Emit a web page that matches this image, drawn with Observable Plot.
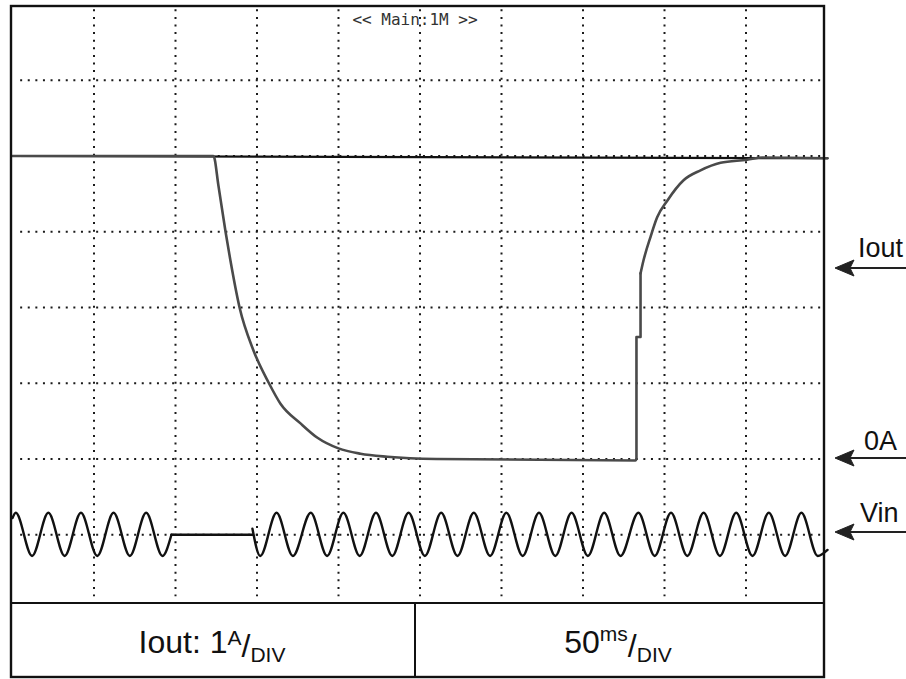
<!DOCTYPE html>
<html><head><meta charset="utf-8">
<script src="https://cdn.jsdelivr.net/npm/d3@7"></script>
<script src="https://cdn.jsdelivr.net/npm/@observablehq/plot@0.6"></script>
<style>
html,body{margin:0;padding:0;background:#fff;}
#chart{width:906px;height:679px;}
</style></head><body><div id="chart"></div>
<script>
// Time axis: 10 divisions x 50 ms ; vertical: 8 divisions
const gridTimes = [50, 100, 150, 200, 250, 300, 350, 400, 450];
const gridLevels = [-3, -2, -1, 0, 1, 2, 3];

// Iout trace (A), 1 A/div, 0 A at the -2 div line
const ioutTime = [0, 123.3, 126.4, 130.7, 133.7, 139.3, 147.9, 157.1, 164.4, 176.7, 187.1, 200, 213.5, 230, 260, 382.2, 382.8,
  382.8, 382.8, 385.3, 385.3,
  385.3, 387.1, 391.4, 395.5, 401.7, 411.7, 422.1, 434.4, 450.7, 460, 500];
const ioutAmps = [4.0, 4.0, 3.6, 3.0, 2.62, 2.0, 1.43, 1.01, 0.73, 0.47, 0.28, 0.14, 0.07, 0.03, 0.0, -0.02, 0.0,
  0.0, 1.61, 1.61, 2.45,
  2.45, 2.62, 2.93, 3.19, 3.41, 3.68, 3.81, 3.91, 3.95, 3.98, 3.97];
const ioutPart = ["fall","fall","fall","fall","fall","fall","fall","fall","fall","fall","fall","fall","fall","fall","fall","fall","fall",
  "step","step","step","step",
  "rise","rise","rise","rise","rise","rise","rise","rise","rise","rise","rise"];

// flat reference trace at the top
const refTime = [0, 500];
const refAmps = [4.0, 3.97];

// Vin trace: extrema (div, around the -3 div line)
const vinTime = [0, 2, 12, 22, 32, 42, 52, 62, 72, 82, 92, 97.5,
  97.5, 147.2,
  147.2, 152, 162, 172, 183, 193, 203, 213, 223, 233, 243, 253, 263, 273, 283, 293, 303, 313, 323, 333, 343, 353, 363, 373, 384, 394, 404, 414, 424, 434, 444, 454, 464, 474, 484, 494, 500];
const vinLevel = [0.22, 0.29, -0.28, 0.29, -0.28, 0.29, -0.28, 0.29, -0.28, 0.29, -0.28, 0,
  0, 0,
  0.08, -0.28, 0.29, -0.28, 0.29, -0.28, 0.29, -0.28, 0.29, -0.28, 0.29, -0.28, 0.29, -0.28, 0.29, -0.28, 0.29, -0.28, 0.29, -0.28, 0.29, -0.28, 0.29, -0.28, 0.29, -0.28, 0.29, -0.28, 0.29, -0.28, 0.29, -0.28, 0.29, -0.28, 0.29, -0.28, -0.2];
const vinSegment = ["a","a","a","a","a","a","a","a","a","a","a","a",
  "b","b",
  "c","c","c","c","c","c","c","c","c","c","c","c","c","c","c","c","c","c","c","c","c","c","c","c","c","c","c","c","c","c","c","c","c","c","c","c","c"];

const ioutData = ioutTime.map((t, i) => ({t, a: ioutAmps[i], part: ioutPart[i]}));
const refData = refTime.map((t, i) => ({t, a: refAmps[i]}));
const vinData = vinTime.map((t, i) => ({t, v: vinLevel[i], seg: vinSegment[i]}));

const dots = {stroke: "#1a1a1a", strokeWidth: 2, strokeDasharray: "2 5.6"};
const ioutStyle = {x: "t", y: d => d.a - 2, stroke: "#4a4a4a", strokeWidth: 2.6};

const chart = Plot.plot({
  width: 906, height: 679,
  marginLeft: 12, marginRight: 79, marginTop: 4, marginBottom: 69,
  x: {domain: [0, 500], axis: null},
  y: {domain: [-4, 4], axis: null},
  style: {background: "#fff"},
  marks: [
    Plot.ruleX(gridTimes, {x: d => d, y1: 3.93, y2: -3.82, ...dots}),
    Plot.ruleY(gridLevels, {y: d => d, x1: 5, x2: 498, ...dots}),
    Plot.line(refData, {x: "t", y: d => d.a - 2, stroke: "#111", strokeWidth: 2.2}),
    Plot.line(ioutData.filter(d => d.part !== "step"), {...ioutStyle, z: "part", curve: "monotone-x"}),
    Plot.line(ioutData.filter(d => d.part === "step"), {...ioutStyle}),
    Plot.line(vinData, {x: "t", y: d => d.v - 3, z: "seg", curve: "monotone-x", stroke: "#111", strokeWidth: 2.4}),
    Plot.text(["<< Main:1M >>"], {frameAnchor: "top", dx: -5, dy: 9, fontFamily: "DejaVu Sans Mono", fontSize: 16, fill: "#333"})
  ]
});
document.getElementById("chart").appendChild(chart);

const svg = d3.select(chart);
const g = svg.append("g").attr("fill", "none").attr("stroke", "#111");
// screen frame and bottom boxes
g.append("rect").attr("x", 11).attr("y", 6).attr("width", 813).attr("height", 671).attr("stroke-width", 2.4);
g.append("line").attr("x1", 11).attr("x2", 824).attr("y1", 603).attr("y2", 603).attr("stroke-width", 2.2);
g.append("line").attr("x1", 415).attr("x2", 415).attr("y1", 603).attr("y2", 677).attr("stroke-width", 2);
svg.insert("rect", ":first-child").attr("x", 0).attr("y", 0).attr("width", 906).attr("height", 679).attr("fill", "#fff");

const font = "'Liberation Sans', Arial, sans-serif";
// right-side markers
const markers = [
  {label: "Iout", y: 268, tx: 858, ty: 257},
  {label: "0A", y: 458, tx: 864, ty: 450},
  {label: "Vin", y: 532, tx: 860, ty: 522}
];
const mk = svg.append("g");
markers.forEach(m => {
  mk.append("line").attr("x1", 848).attr("x2", 906).attr("y1", m.y).attr("y2", m.y).attr("stroke", "#222").attr("stroke-width", 2);
  mk.append("path").attr("d", `M835,${m.y} L854,${m.y - 8} L850,${m.y} L854,${m.y + 8} Z`).attr("fill", "#222").attr("stroke", "#222").attr("stroke-width", 1);
  mk.append("text").attr("x", m.tx).attr("y", m.ty).attr("text-anchor", "start").attr("font-family", font).attr("font-size", 27).attr("fill", "#111").text(m.label);
});

// bottom labels with super/subscripts
function label(x, parts) {
  const t = svg.append("text").attr("x", x).attr("y", 653).attr("text-anchor", "middle")
    .attr("font-family", font).attr("fill", "#111");
  parts.forEach(p => t.append("tspan").attr("font-size", p.size).attr("dy", p.dy).text(p.t));
}
label(212, [{t: "Iout: 1", size: 32, dy: 0}, {t: "A", size: 21, dy: -8}, {t: "/", size: 32, dy: 12}, {t: "DIV", size: 21, dy: 5}]);
label(618, [{t: "50", size: 32, dy: 0}, {t: "ms", size: 21, dy: -12}, {t: "/", size: 32, dy: 16}, {t: "DIV", size: 21, dy: 5}]);
</script></body></html>
